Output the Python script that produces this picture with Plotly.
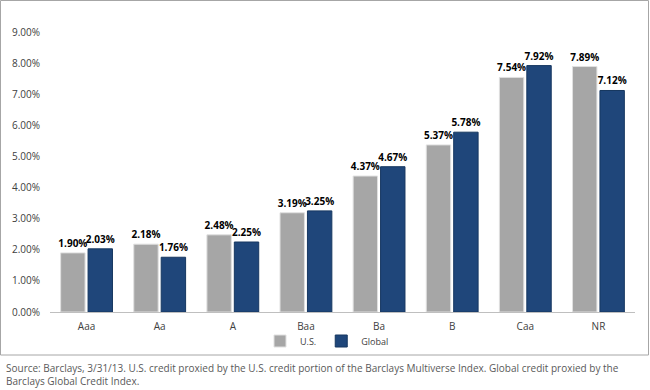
import plotly.graph_objects as go

categories = ["Aaa", "Aa", "A", "Baa", "Ba", "B", "Caa", "NR"]
us_values = [1.90, 2.18, 2.48, 3.19, 4.37, 5.37, 7.54, 7.89]
global_values = [2.03, 1.76, 2.25, 3.25, 4.67, 5.78, 7.92, 7.12]
y_ticks = [0, 1, 2, 3, 4, 5, 6, 7, 8, 9]
source_text = ("Source: Barclays, 3/31/13. U.S. credit proxied by the U.S. credit portion of the Barclays Multiverse Index. "
               "Global credit proxied by the<br>Barclays Global Credit Index.")

FONT = "Open Sans, DejaVu Sans, sans-serif"

fig = go.Figure()
fig.add_trace(go.Bar(
    name="U.S.", x=categories, y=us_values,
    marker=dict(color="#A6A6A6", line=dict(color="#E0E0E0", width=1)),
    text=[f"{v:.2f}%" for v in us_values], textposition="outside",
    textfont=dict(family=FONT, size=10, color="#000000"),
    texttemplate="<b>%{text}</b>", cliponaxis=False, constraintext="none",
))
fig.add_trace(go.Bar(
    name="Global", x=categories, y=global_values,
    marker=dict(color="#1F467A", line=dict(color="#163760", width=1)),
    text=[f"{v:.2f}%" for v in global_values], textposition="outside",
    textfont=dict(family=FONT, size=10, color="#000000"),
    texttemplate="<b>%{text}</b>", cliponaxis=False, constraintext="none",
))

L, R, T, B = 50, 15, 32, 78
pw, ph = 650 - L - R, 390 - T - B

def px(x):
    return (x - L) / pw

def py(y):
    return (390 - B - y) / ph

fig.update_layout(
    width=650, height=390,
    margin=dict(l=L, r=R, t=T, b=B),
    paper_bgcolor="white", plot_bgcolor="white",
    barmode="group", bargap=0.25, bargroupgap=0.11,
    font=dict(family=FONT, size=10, color="#404040"),
    showlegend=True,
    legend=dict(orientation="h", x=px(327), y=py(341), xanchor="center", yanchor="middle",
                font=dict(size=9, color="#404040"), itemwidth=30,
                tracegroupgap=0, bgcolor="rgba(0,0,0,0)"),
    xaxis=dict(showline=True, linecolor="#BFBFBF", linewidth=1, ticks="",
               ticklabelstandoff=5,
               tickfont=dict(size=10, color="#404040"), showgrid=False, fixedrange=True),
    yaxis=dict(range=[0, 9], tickvals=y_ticks,
               ticktext=[f"{v:.2f}%" for v in y_ticks], ticklabelstandoff=9,
               showgrid=False, zeroline=False, showline=False,
               tickfont=dict(size=10, color="#404040"), fixedrange=True),
    shapes=[dict(type="rect", xref="paper", yref="paper",
                 x0=px(0.5), x1=px(648.5), y0=py(0.5), y1=py(355),
                 line=dict(color="#A6A6A6", width=1), fillcolor="rgba(0,0,0,0)", layer="below")],
    annotations=[dict(text=source_text, xref="paper", yref="paper",
                      x=px(4), y=py(359), xanchor="left", yanchor="top", align="left",
                      showarrow=False, font=dict(size=10, color="#595959"))],
)

fig.write_html("out.html")
